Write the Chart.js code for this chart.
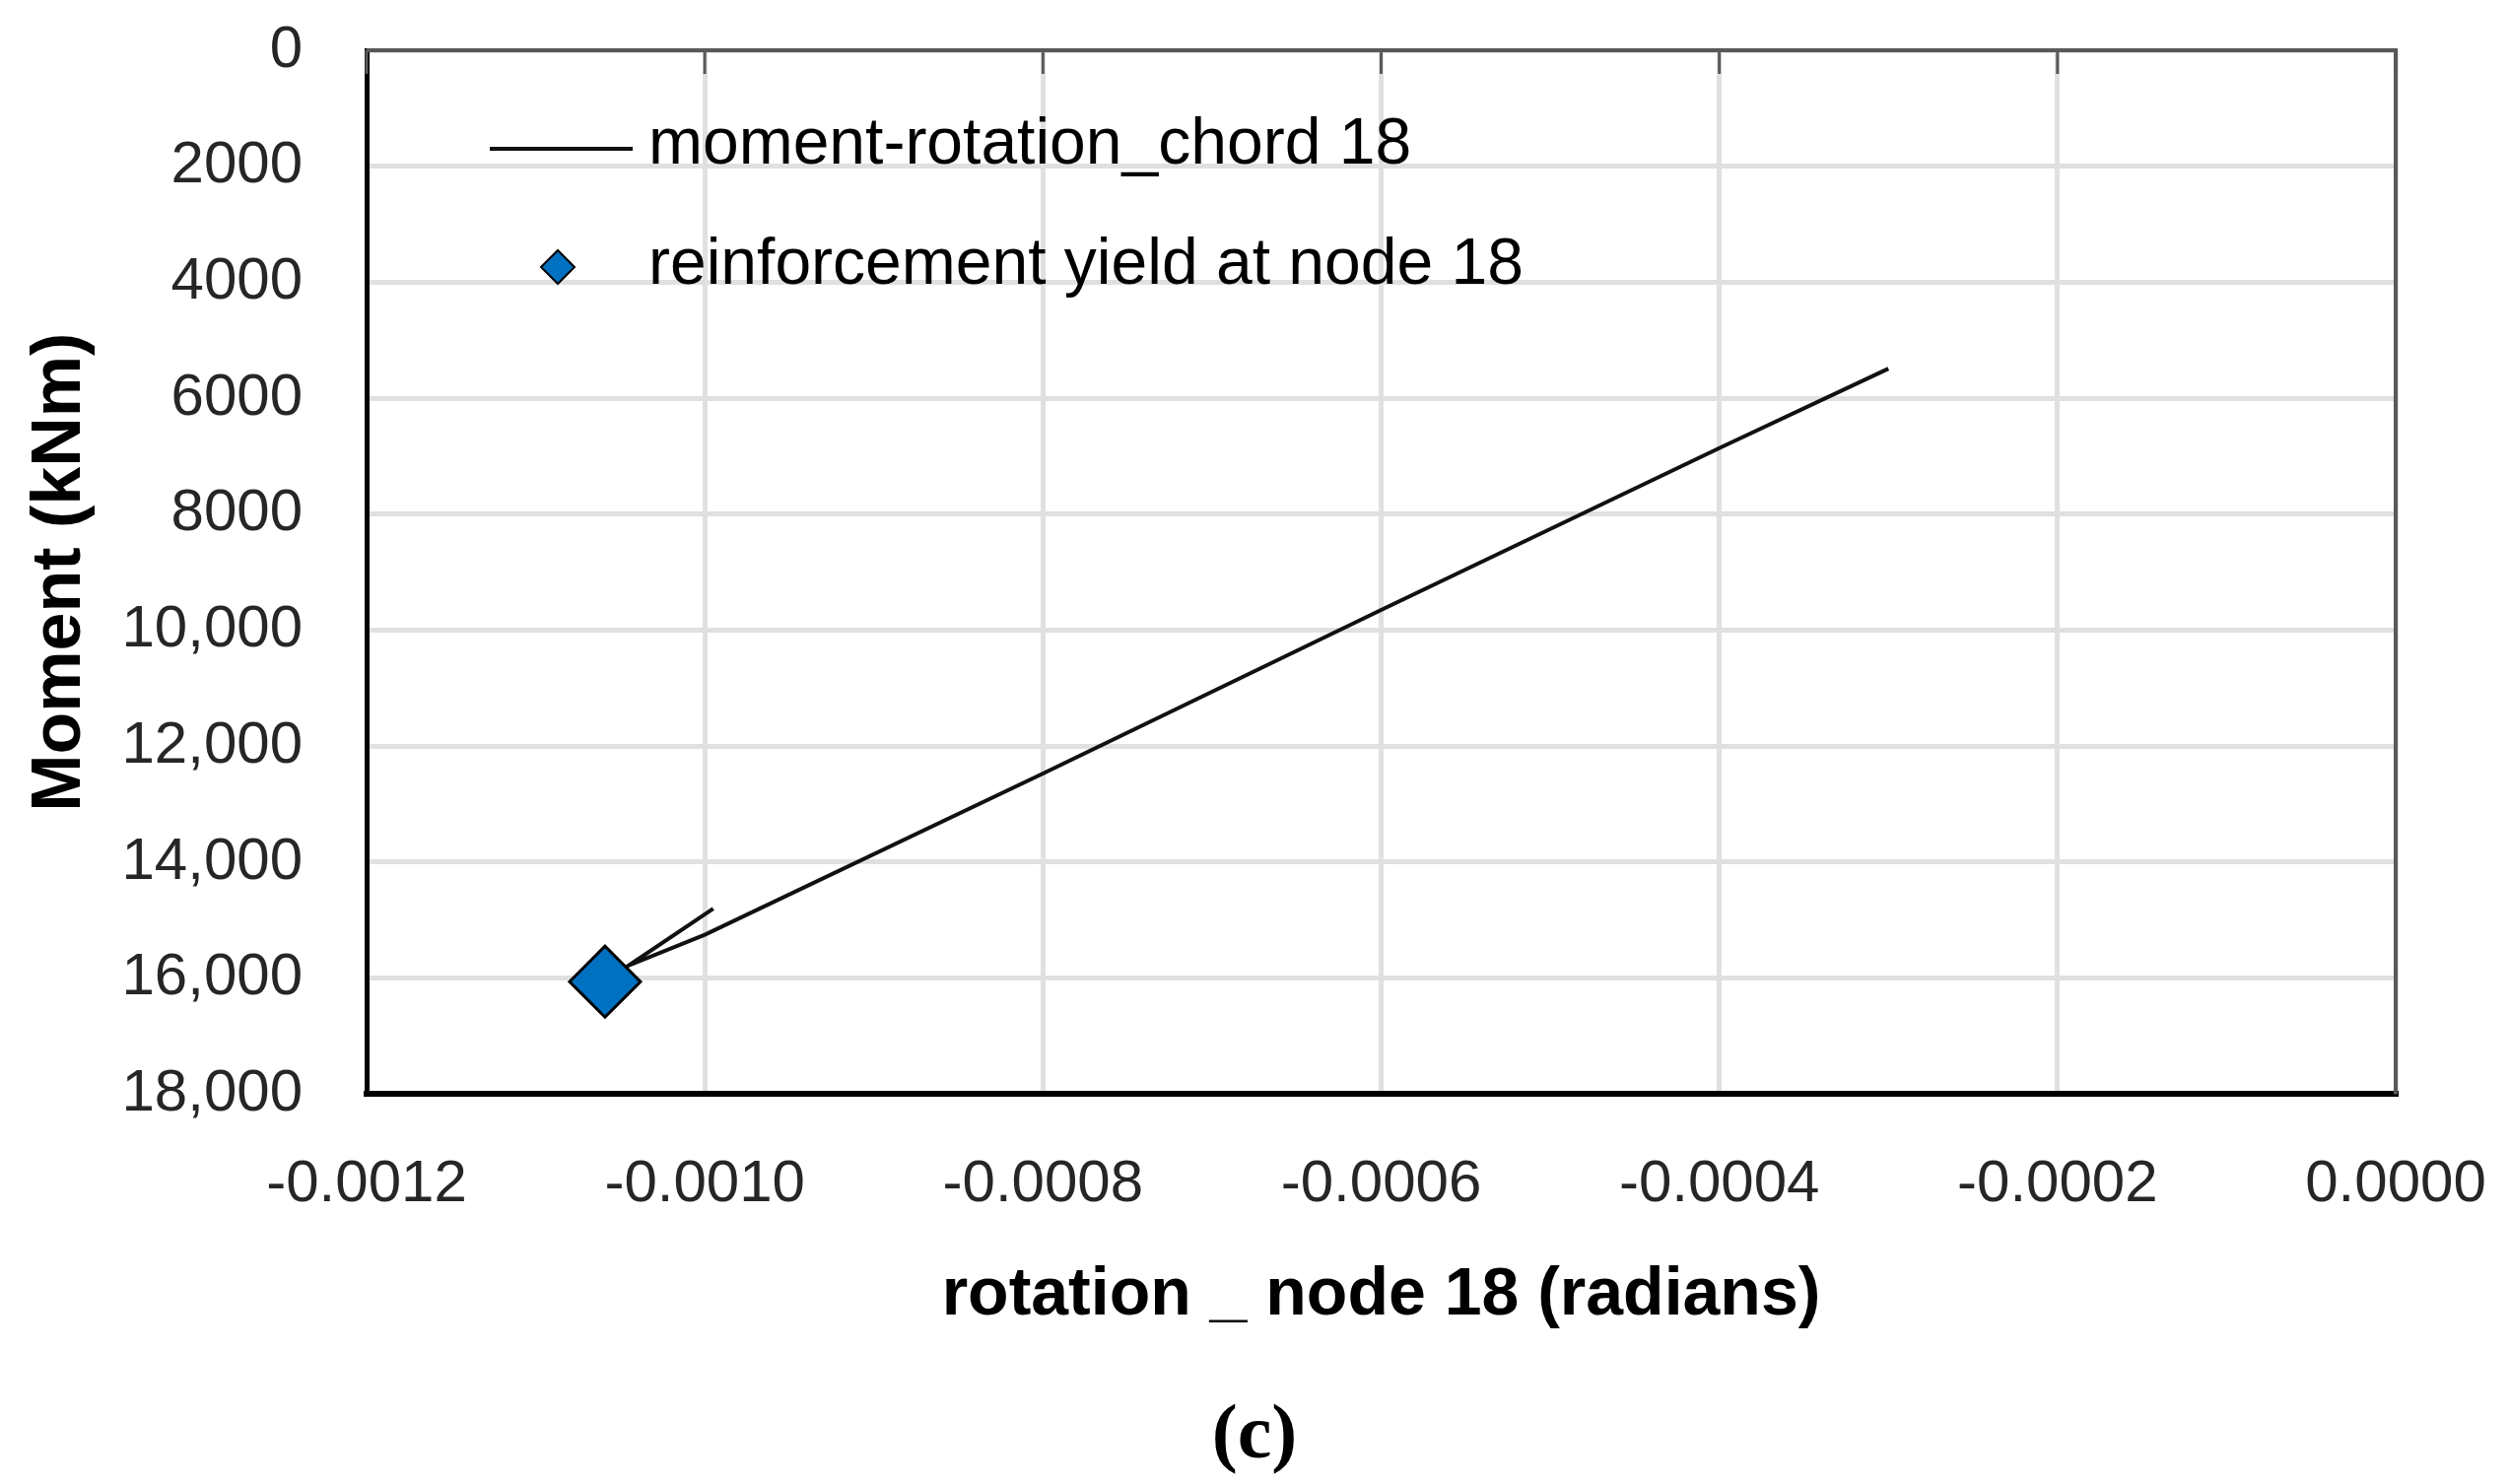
<!DOCTYPE html>
<html>
<head>
<meta charset="utf-8">
<script src="https://cdn.jsdelivr.net/npm/chart.js@4.4.0/dist/chart.umd.min.js"></script>
<style>
  html, body { margin: 0; padding: 0; background: #ffffff; }
  canvas { display: block; }
</style>
</head>
<body>
<canvas id="momentChart" width="2546" height="1506"></canvas>
<script>
// chord curve (rotation in radians, moment in kNm)
const chordRotation = [-0.0003, -0.0004, -0.0006, -0.0008, -0.0010, -0.001045, -0.000995];
const chordMoment = [5490, 6860, 9650, 12470, 15250, 15780, 14800];

// first yield of the reinforcement
const yieldRotation = [-0.001059];
const yieldMoment = [16060];

const seriesLabels = ['moment-rotation_chord 18', 'reinforcement yield at node 18'];
const xTickValues = [-0.0012, -0.0010, -0.0008, -0.0006, -0.0004, -0.0002, 0];
const xTickLabels = ['-0.0012', '-0.0010', '-0.0008', '-0.0006', '-0.0004', '-0.0002', '0.0000'];
const yTickValues = [0, 2000, 4000, 6000, 8000, 10000, 12000, 14000, 16000, 18000];
const yTickLabels = ['0', '2000', '4000', '6000', '8000', '10,000', '12,000', '14,000', '16,000', '18,000'];

const sansFont = "'Liberation Sans', Arial, sans-serif";

function toPoints(xs, ys) {
    return xs.map((x, i) => ({ x: x, y: ys[i] }));
}

// look up the printed label for a tick value
function labelFor(values, labels, value) {
    let best = 0;
    values.forEach((v, i) => {
        if (Math.abs(v - value) < Math.abs(values[best] - value)) best = i;
    });
    return labels[best];
}

// Function to draw the gray top/right frame, the inward top ticks and the legend
const frameAndLegend = {
    id: 'frameAndLegend',
    afterDraw(chart) {
        const ctx = chart.ctx;
        const a = chart.chartArea;
        const xScale = chart.scales.x;
        ctx.save();

        ctx.strokeStyle = '#595959';
        ctx.lineWidth = 4;
        ctx.beginPath();
        ctx.moveTo(a.left, a.top);
        ctx.lineTo(a.right, a.top);
        ctx.lineTo(a.right, a.bottom);
        ctx.stroke();

        ctx.lineWidth = 3;
        ctx.beginPath();
        xScale.ticks.forEach(t => {
            const px = xScale.getPixelForValue(t.value);
            ctx.moveTo(px, a.top);
            ctx.lineTo(px, a.top + 24);
        });
        ctx.stroke();

        const lineSet = chart.data.datasets[1];
        const markSet = chart.data.datasets[0];

        // legend entry: line
        ctx.strokeStyle = lineSet.borderColor;
        ctx.lineWidth = 4;
        ctx.beginPath();
        ctx.moveTo(a.left + 125, a.top + 100);
        ctx.lineTo(a.left + 270, a.top + 100);
        ctx.stroke();

        // legend entry: diamond
        const cx = a.left + 194, cy = a.top + 220, r = 17;
        ctx.fillStyle = markSet.backgroundColor;
        ctx.strokeStyle = markSet.borderColor;
        ctx.lineWidth = 2;
        ctx.beginPath();
        ctx.moveTo(cx - r, cy);
        ctx.lineTo(cx, cy - r);
        ctx.lineTo(cx + r, cy);
        ctx.lineTo(cx, cy + r);
        ctx.closePath();
        ctx.fill();
        ctx.stroke();

        ctx.fillStyle = '#000000';
        ctx.font = '66px ' + sansFont;
        ctx.textAlign = 'left';
        ctx.textBaseline = 'alphabetic';
        ctx.fillText(lineSet.label, a.left + 286, a.top + 115);
        ctx.fillText(markSet.label, a.left + 286, a.top + 237);

        ctx.restore();
    }
};

const momentChart = new Chart(document.getElementById('momentChart').getContext('2d'), {
    type: 'scatter',
    data: {
        datasets: [
            {
                label: seriesLabels[1],
                data: toPoints(yieldRotation, yieldMoment),
                pointStyle: 'rectRot',
                pointRadius: 36,
                pointHoverRadius: 36,
                backgroundColor: '#0070C0',
                borderColor: '#000000',
                borderWidth: 3,
                order: 0
            },
            {
                label: seriesLabels[0],
                data: toPoints(chordRotation, chordMoment),
                showLine: true,
                borderColor: '#111111',
                borderWidth: 4,
                pointRadius: 0,
                pointHoverRadius: 0,
                tension: 0,
                order: 1
            }
        ]
    },
    options: {
        responsive: false,
        devicePixelRatio: 1,
        animation: false,
        layout: {
            padding: { top: 51, right: 0, left: 0, bottom: 0 }
        },
        plugins: {
            legend: { display: false },
            tooltip: { enabled: false },
            title: {
                display: true,
                position: 'bottom',
                text: '(c)',
                color: '#000000',
                font: { family: "'Liberation Serif', 'Times New Roman', serif", size: 78, weight: 'bold' },
                padding: { top: 0, bottom: 0 }
            }
        },
        scales: {
            x: {
                type: 'linear',
                position: 'bottom',
                min: -0.0012,
                max: 0,
                ticks: {
                    stepSize: 0.0002,
                    padding: 56,
                    color: '#262626',
                    font: { family: sansFont, size: 60 },
                    maxRotation: 0,
                    callback: value => labelFor(xTickValues, xTickLabels, value)
                },
                grid: { color: '#e0e0e0', lineWidth: 5, drawTicks: false },
                border: { color: '#000000', width: 6 },
                title: {
                    display: true,
                    text: 'rotation _ node 18 (radians)',
                    color: '#000000',
                    font: { family: sansFont, size: 68, weight: 'bold' },
                    padding: { top: 0, bottom: 56 }
                },
                afterFit: scale => {
                    scale.height = 302;
                    scale.paddingLeft = 0;
                    scale.paddingRight = 115;
                }
            },
            y: {
                type: 'linear',
                reverse: true,
                min: 0,
                max: 18000,
                ticks: {
                    stepSize: 2000,
                    padding: 65,
                    color: '#262626',
                    font: { family: sansFont, size: 60 },
                    callback: value => labelFor(yTickValues, yTickLabels, value)
                },
                grid: { color: '#e0e0e0', lineWidth: 5, drawTicks: false },
                border: { color: '#000000', width: 5 },
                title: {
                    display: true,
                    text: 'Moment (kNm)',
                    color: '#000000',
                    font: { family: sansFont, size: 70, weight: 'bold' },
                    padding: { top: 20, bottom: 0 }
                },
                afterFit: scale => {
                    scale.width = 372;
                    scale.paddingTop = 0;
                    scale.paddingBottom = 0;
                }
            }
        }
    },
    plugins: [frameAndLegend]
});
</script>
</body>
</html>
